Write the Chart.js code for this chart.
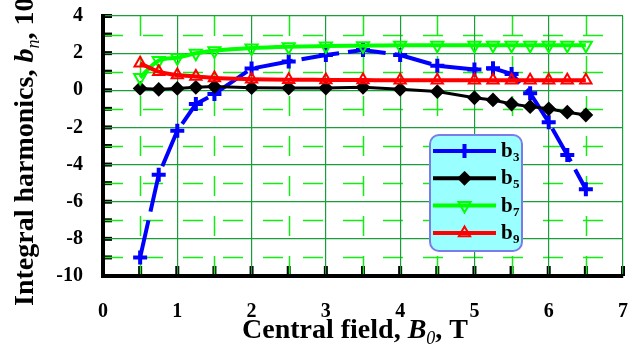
<!DOCTYPE html>
<html>
<head>
<meta charset="utf-8">
<script src="https://cdn.jsdelivr.net/npm/chart.js@4.4.1/dist/chart.umd.min.js"></script>
<style>
  html, body { margin: 0; padding: 0; background: #fff; }
</style>
</head>
<body>
<canvas id="myChart" width="642" height="352"></canvas>
<script>
// central field B0, T
const fieldB0 = [0.5, 0.75, 1, 1.25, 1.5, 2, 2.5, 3, 3.5, 4, 4.5, 5, 5.25, 5.5, 5.75, 6, 6.25, 6.5];
// integral harmonics
const b3 = [-9.0, -4.55, -2.18, -0.74, -0.2, 1.17, 1.55, 1.9, 2.17, 1.9, 1.32, 1.12, 1.18, 0.88, -0.16, -1.72, -3.48, -5.33];
const b5 = [0.1, 0.05, 0.1, 0.16, 0.2, 0.14, 0.12, 0.12, 0.16, 0.05, -0.07, -0.4, -0.52, -0.74, -0.88, -1.0, -1.18, -1.33];
const b7 = [0.69, 1.6, 1.75, 1.99, 2.13, 2.28, 2.35, 2.38, 2.4, 2.42, 2.42, 2.42, 2.42, 2.42, 2.42, 2.42, 2.42, 2.42];
const b9 = [1.45, 1.0, 0.82, 0.74, 0.66, 0.6, 0.57, 0.56, 0.55, 0.54, 0.54, 0.54, 0.54, 0.54, 0.54, 0.54, 0.54, 0.54];
const seriesNames = ["3", "5", "7", "9"];
const xTicks = [0, 1, 2, 3, 4, 5, 6, 7];
const yTicks = [-10, -8, -6, -4, -2, 0, 2, 4];

const SERIF = '"Liberation Serif", "Times New Roman", serif';
const MAJOR = '#1a9e3a';
const MINOR = '#14ec14';

function toXY(arr) {
  return fieldB0.map((x, i) => ({ x: x, y: arr[i] }));
}

// simple marker drawing for the legend
function marker(ctx, style, x, y, r, rot) {
  ctx.beginPath();
  if (style === 'cross') {
    ctx.moveTo(x - r, y); ctx.lineTo(x + r, y);
    ctx.moveTo(x, y - r); ctx.lineTo(x, y + r);
    ctx.stroke();
  } else if (style === 'rectRot') {
    ctx.moveTo(x, y - r); ctx.lineTo(x + r, y); ctx.lineTo(x, y + r); ctx.lineTo(x - r, y);
    ctx.closePath(); ctx.fill(); ctx.stroke();
  } else {
    let a = (rot || 0) * Math.PI / 180;
    for (let k = 0; k < 3; k++) {
      const px = x + Math.sin(a) * r, py = y - Math.cos(a) * r;
      if (k === 0) ctx.moveTo(px, py); else ctx.lineTo(px, py);
      a += 2 * Math.PI / 3;
    }
    ctx.closePath(); ctx.stroke();
  }
}

// draw a run of text pieces with different fonts
function runText(ctx, parts) {
  let cx = 0;
  parts.forEach(p => {
    ctx.font = p.f;
    ctx.fillText(p.t, cx, p.dy || 0);
    cx += ctx.measureText(p.t).width;
  });
}

function noPad(s) {
  s.paddingTop = 0; s.paddingBottom = 0; s.paddingLeft = 0; s.paddingRight = 0;
}

const decorPlugin = {
  id: 'decor',
  beforeDraw(chart) {
    const ctx = chart.ctx;
    const a = chart.chartArea;
    const xs = chart.scales.x, ys = chart.scales.y;
    ctx.save();
    // inner ticks
    ctx.strokeStyle = '#000';
    ctx.lineWidth = 4;
    for (let v = -10; v <= 4; v += 1) {
      const py = ys.getPixelForValue(v);
      ctx.beginPath(); ctx.moveTo(a.left, py); ctx.lineTo(a.left + 9, py); ctx.stroke();
    }
    for (let v = 0; v <= 7; v += 0.5) {
      const px = xs.getPixelForValue(v);
      ctx.beginPath(); ctx.moveTo(px, a.bottom); ctx.lineTo(px, a.bottom - 10); ctx.stroke();
    }
    // minor dashed grid
    ctx.strokeStyle = MINOR;
    ctx.lineWidth = 1.5;
    ctx.setLineDash([20, 20]);
    for (let v = -9; v <= 3; v += 2) {
      const py = Math.round(ys.getPixelForValue(v)) + 0.5;
      ctx.beginPath(); ctx.moveTo(a.left, py); ctx.lineTo(a.right, py); ctx.stroke();
    }
    for (let v = 0.5; v < 7; v += 1) {
      const px = Math.round(xs.getPixelForValue(v)) + 0.5;
      ctx.beginPath(); ctx.moveTo(px, a.bottom); ctx.lineTo(px, a.top); ctx.stroke();
    }
    ctx.restore();
  },
  afterDraw(chart) {
    const ctx = chart.ctx;
    const a = chart.chartArea;
    ctx.save();
    // axis titles
    ctx.fillStyle = '#000';
    ctx.textBaseline = 'alphabetic';
    ctx.save();
    ctx.translate(a.left - 70, 306);
    ctx.rotate(-Math.PI / 2);
    runText(ctx, [
      { t: 'Integral harmonics, ', f: 'bold 28px ' + SERIF },
      { t: 'b', f: 'italic bold 28px ' + SERIF },
      { t: 'n', f: 'italic 18px ' + SERIF, dy: 6 },
      { t: ', 10', f: 'bold 28px ' + SERIF },
      { t: '-4', f: 'bold 18px ' + SERIF, dy: -12 }
    ]);
    ctx.restore();
    ctx.save();
    ctx.translate(242, 338);
    runText(ctx, [
      { t: 'Central field, ', f: 'bold 28px ' + SERIF },
      { t: 'B', f: 'italic bold 28px ' + SERIF },
      { t: '0', f: 'italic 18px ' + SERIF, dy: 6 },
      { t: ', T', f: 'bold 28px ' + SERIF }
    ]);
    ctx.restore();

    // legend box
    const lx = 430, ly = 135, lw = 92, lh = 116;
    ctx.beginPath();
    ctx.roundRect(lx, ly, lw, lh, 9);
    ctx.fillStyle = '#99ffff';
    ctx.fill();
    ctx.lineWidth = 2;
    ctx.strokeStyle = '#7b7bea';
    ctx.stroke();
    chart.data.datasets.forEach((ds, i) => {
      const y = ly + 16 + i * 27.3;
      ctx.strokeStyle = ds.borderColor;
      ctx.fillStyle = ds.borderColor;
      ctx.lineWidth = 4;
      ctx.beginPath(); ctx.moveTo(lx + 3, y); ctx.lineTo(lx + 66, y); ctx.stroke();
      ctx.lineWidth = ds.pointBorderWidth;
      marker(ctx, ds.pointStyle, lx + 34.5, y, ds.pointRadius, ds.pointRotation);
      ctx.fillStyle = '#000';
      ctx.font = 'bold 21px ' + SERIF;
      ctx.fillText('b', lx + 71, y + 6);
      ctx.font = 'bold 13px ' + SERIF;
      ctx.fillText(seriesNames[i], lx + 83, y + 10);
    });
    ctx.restore();
  }
};

const ctx = document.getElementById("myChart").getContext("2d");

const chart = new Chart(ctx, {
  type: 'line',
  data: {
    datasets: [
      {
        label: 'b3', data: toXY(b3), order: 4,
        borderColor: '#0000ff', backgroundColor: '#0000ff', borderWidth: 4, borderDash: [38, 9],
        pointStyle: 'cross', pointRadius: 7, pointBorderWidth: 4, pointBorderColor: '#0000ff', tension: 0
      },
      {
        label: 'b5', data: toXY(b5), order: 3,
        borderColor: '#000000', backgroundColor: '#000000', borderWidth: 3,
        pointStyle: 'rectRot', pointRadius: 6, pointBorderWidth: 2, pointBackgroundColor: '#000000', tension: 0
      },
      {
        label: 'b7', data: toXY(b7), order: 2,
        borderColor: '#00ff00', backgroundColor: 'rgba(0,0,0,0)', borderWidth: 4,
        pointStyle: 'triangle', pointRotation: 180, pointRadius: 7, pointBorderWidth: 2,
        pointBackgroundColor: 'rgba(0,0,0,0)', cubicInterpolationMode: 'monotone'
      },
      {
        label: 'b9', data: toXY(b9), order: 1,
        borderColor: '#ff0000', backgroundColor: 'rgba(0,0,0,0)', borderWidth: 4,
        pointStyle: 'triangle', pointRadius: 6.5, pointBorderWidth: 2,
        pointBackgroundColor: 'rgba(0,0,0,0)', cubicInterpolationMode: 'monotone'
      }
    ]
  },
  options: {
    responsive: false,
    animation: false,
    layout: { autoPadding: false, padding: { top: 16, right: 19, left: 0, bottom: 0 } },
    plugins: {
      legend: { display: false },
      tooltip: { enabled: false }
    },
    scales: {
      x: {
        type: 'linear', min: 0, max: 7,
        afterBuildTicks: s => { s.ticks = xTicks.map(v => ({ value: v })); },
        afterFit: s => { s.height = 76; noPad(s); },
        grid: { color: MAJOR, lineWidth: 1.2, drawTicks: false },
        border: { color: '#000', width: 4 },
        ticks: { color: '#000', padding: 24, font: { family: SERIF, size: 20, weight: 'bold' } }
      },
      y: {
        type: 'linear', min: -10, max: 4,
        afterBuildTicks: s => { s.ticks = yTicks.map(v => ({ value: v })); },
        afterFit: s => { s.width = 103; noPad(s); },
        grid: { color: MAJOR, lineWidth: 1.2, drawTicks: false },
        border: { color: '#000', width: 4 },
        ticks: { color: '#000', padding: 20, font: { family: SERIF, size: 20, weight: 'bold' } }
      }
    }
  },
  plugins: [decorPlugin]
});
</script>
</body>
</html>
